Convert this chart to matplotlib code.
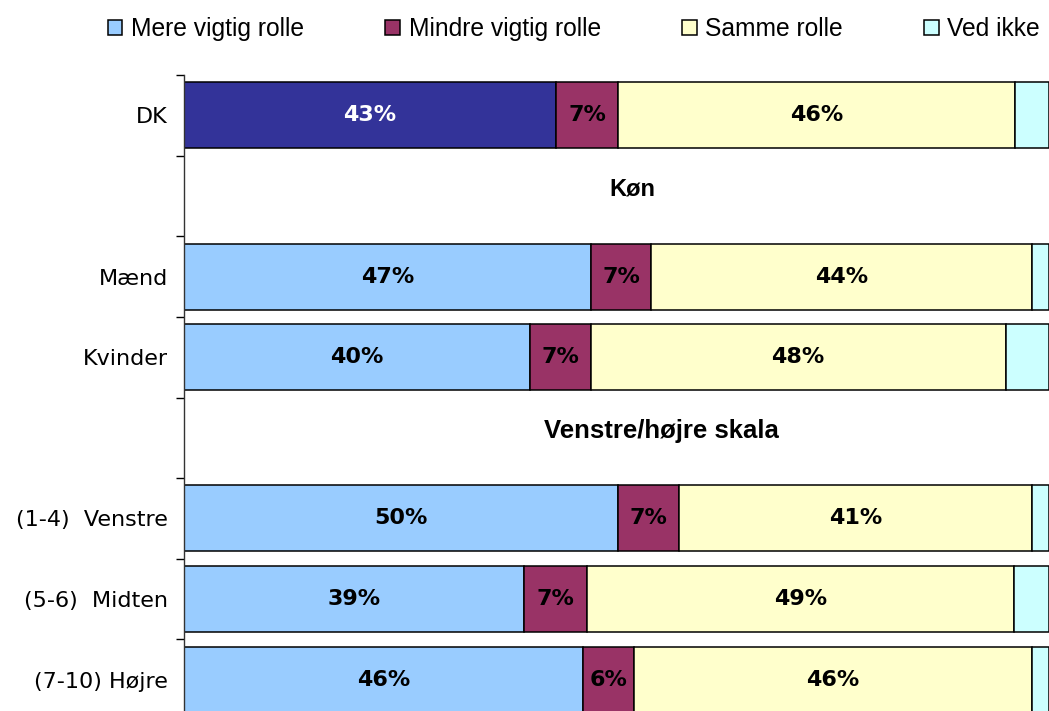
import matplotlib
matplotlib.use("Agg")
import matplotlib.pyplot as plt
from matplotlib.patches import Patch

# rows from top to bottom (headers are empty rows)
row_labels = ["DK", "", "Mænd", "Kvinder", "", "(1-4)  Venstre", "(5-6)  Midten", "(7-10) Højre"]
bar_rows = [0, 2, 3, 5, 6, 7]
headers = {"Køn": (1, 51.8, 17), "Venstre/højre skala": (4, 55.2, 18.5)}

series = ["Mere vigtig rolle", "Mindre vigtig rolle", "Samme rolle", "Ved ikke"]
mere = [43.0, 47.1, 40.0, 50.2, 39.3, 46.1]
mindre = [7.2, 6.9, 7.0, 7.0, 7.3, 5.9]
samme = [45.9, 44.0, 48.0, 40.8, 49.4, 46.0]
ved_ikke = [3.9, 2.0, 5.0, 2.0, 4.0, 2.0]

colors = ["#99CCFF", "#993366", "#FFFFCC", "#CCFFFF"]
dk_color = "#333399"

fig = plt.figure(figsize=(10.49, 7.11), dpi=100)
ax = fig.add_axes([184 / 1049, -9 / 711, 865 / 1049, 645 / 711])

left = [0.0] * len(bar_rows)
for k, vals in enumerate([mere, mindre, samme, ved_ikke]):
    cols = [colors[k]] * len(bar_rows)
    if k == 0:
        cols[0] = dk_color
    ax.barh(bar_rows, vals, left=left, height=0.82, color=cols,
            edgecolor="black", linewidth=1.1)
    if k < 3:
        for i, (r, v) in enumerate(zip(bar_rows, vals)):
            tc = "white" if (k == 0 and i == 0) else "black"
            ax.text(left[i] + v / 2, r, f"{v:.0f}%", ha="center", va="center",
                    fontsize=16, fontweight="bold", color=tc,
                    family="DejaVu Sans")
    left = [a + b for a, b in zip(left, vals)]

for txt, (r, x, fs) in headers.items():
    ax.text(x, r - 0.09, txt, ha="center", va="center", fontsize=fs,
            fontweight="bold", family="Liberation Sans")

ax.set_xlim(0, 100)
ax.set_ylim(7.5, -0.5)
ax.set_xticks([])
for s in ["top", "right", "bottom"]:
    ax.spines[s].set_visible(False)
ax.spines["left"].set_linewidth(1.0)
ax.spines["left"].set_color("#333333")

ax.set_yticks([i - 0.5 for i in range(9)])
ax.set_yticklabels([])
ax.tick_params(axis="y", which="major", length=6, width=1.0, direction="out")
ax.set_yticks(range(8), minor=True)
ax.set_yticklabels(row_labels, minor=True, fontsize=16, family="DejaVu Sans")
ax.tick_params(axis="y", which="minor", length=0, pad=11.5)

handles = [Patch(facecolor=c, edgecolor="black", linewidth=1.1) for c in colors]
fig.legend(handles, series, loc="center", bbox_to_anchor=(0.547, 0.959),
           ncol=4, frameon=False, prop={"family": "Liberation Sans", "size": 17.7},
           handlelength=0.6, handleheight=0.6, handletextpad=0.35,
           columnspacing=3.3, borderaxespad=0)

fig.savefig("out.png", dpi=100)
